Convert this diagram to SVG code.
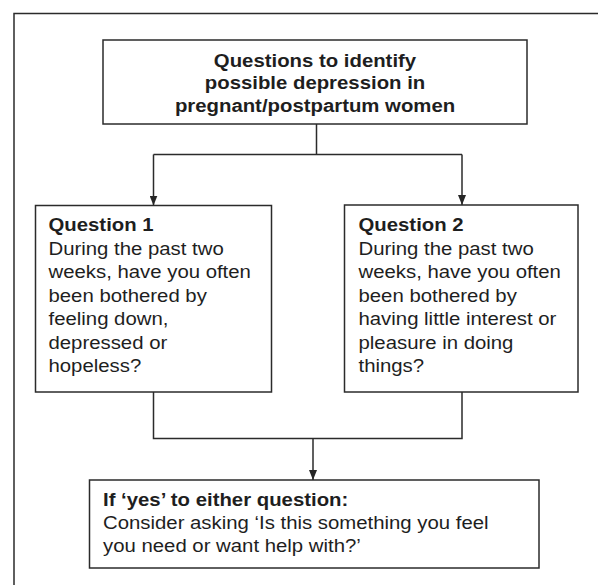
<svg xmlns="http://www.w3.org/2000/svg" width="598" height="585" viewBox="0 0 598 585">
<defs>
<marker id="arr" markerWidth="10" markerHeight="8" refX="10" refY="4" orient="auto" markerUnits="userSpaceOnUse" viewBox="0 0 10 8">
<path d="M0,0 L10,4 L0,8 Z" fill="#262626"/>
</marker>
</defs>
<style>
.box{fill:#fff;stroke:#2b2b2b;stroke-width:1.5}
.ln{fill:none;stroke:#2b2b2b;stroke-width:1.5}
text{font-family:"Liberation Sans",Arial,sans-serif;font-size:18.5px;fill:#1e1e1e}
.b{font-weight:bold}
</style>
<rect width="598" height="585" fill="#fff"/>
<path class="ln" d="M14,585 V13.5 H598"/>
<g id="connectors">
<path class="ln" d="M316.5,124 V154.5 M153.5,154.5 H462"/>
<path class="ln" d="M153.5,154.5 V205.5" marker-end="url(#arr)"/>
<path class="ln" d="M462,154.5 V205" marker-end="url(#arr)"/>
<path class="ln" d="M153.5,392 V438.5 H462 V392"/>
<path class="ln" d="M313,438.5 V480" marker-end="url(#arr)"/>
</g>
<g id="title">
<rect class="box" x="103" y="40" width="424" height="84"/>
<g transform="translate(315,0) scale(1.1,1)" text-anchor="middle">
<text class="b" x="0" y="67">Questions to identify</text>
<text class="b" x="0" y="89.5">possible depression in</text>
<text class="b" x="0" y="112">pregnant/postpartum women</text>
</g>
</g>
<g id="q1">
<rect class="box" x="35.5" y="205.5" width="236" height="186.5"/>
<g transform="translate(48.5,0) scale(1.1,1)">
<text class="b" x="0" y="231.5">Question 1</text>
<text x="0" y="255">During the past two</text>
<text x="0" y="278.5">weeks, have you often</text>
<text x="0" y="302">been bothered by</text>
<text x="0" y="325.5">feeling down,</text>
<text x="0" y="349">depressed or</text>
<text x="0" y="372.5">hopeless?</text>
</g>
</g>
<g id="q2">
<rect class="box" x="344.5" y="205" width="233.5" height="187"/>
<g transform="translate(358.5,0) scale(1.1,1)">
<text class="b" x="0" y="231.5">Question 2</text>
<text x="0" y="255">During the past two</text>
<text x="0" y="278.5">weeks, have you often</text>
<text x="0" y="302">been bothered by</text>
<text x="0" y="325.5">having little interest or</text>
<text x="0" y="349">pleasure in doing</text>
<text x="0" y="372.5">things?</text>
</g>
</g>
<g id="action">
<rect class="box" x="89.5" y="480" width="449.5" height="88"/>
<g transform="translate(103,0) scale(1.1,1)">
<text class="b" x="0" y="506">If ‘yes’ to either question:</text>
<text x="0" y="529">Consider asking ‘Is this something you feel</text>
<text x="0" y="552">you need or want help with?’</text>
</g>
</g>
</svg>
